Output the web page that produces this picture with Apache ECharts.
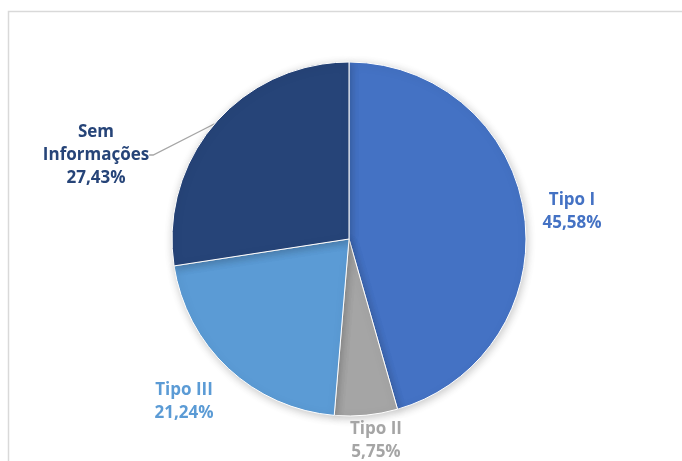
<!DOCTYPE html>
<html>
<head>
<meta charset="utf-8">
<script src="https://cdn.jsdelivr.net/npm/echarts@6/dist/echarts.min.js"></script>
<style>
  html, body { margin: 0; padding: 0; background: #ffffff; }
  #chart { width: 682px; height: 461px; }
</style>
</head>
<body>
<div id="chart"></div>
<script>
// Distribuição por tipo (%)
const categories = ['Tipo I', 'Tipo II', 'Tipo III', 'Sem\nInformações'];
const values = [45.58, 5.75, 21.24, 27.43];
const colors = ['#4472C4', '#A5A5A5', '#5B9BD5', '#264478'];

// where each label block is centred
const labelSpots = [
  [572, 212],
  [376, 441],
  [184, 402],
  [96, 155]
];

const fmt = v => v.toFixed(2).replace('.', ',') + '%';

const chart = echarts.init(document.getElementById('chart'), null, { renderer: 'canvas' });

chart.setOption({
  animation: false,
  backgroundColor: '#ffffff',
  graphic: [{
    type: 'rect',
    shape: { x: 8.5, y: 11.5, width: 700, height: 480 },
    style: { fill: 'none', stroke: '#d9d9d9', lineWidth: 1.5 },
    silent: true
  }],
  series: [{
    type: 'pie',
    center: [349, 239],
    radius: [0, 177],
    startAngle: 90,
    clockwise: true,
    avoidLabelOverlap: false,
    itemStyle: {
      borderColor: '#ffffff',
      borderWidth: 1,
      shadowBlur: 8,
      shadowColor: 'rgba(0,0,0,0.22)',
      shadowOffsetX: 1,
      shadowOffsetY: 2
    },
    label: {
      show: true,
      position: 'outside',
      fontFamily: 'Open Sans',
      fontWeight: 'bold',
      fontSize: 17,
      lineHeight: 23,
      align: 'center',
      formatter: p => p.name + '\n' + fmt(p.value)
    },
    labelLine: {
      show: true,
      length: 10,
      length2: 4,
      lineStyle: { color: '#a6a6a6', width: 1.3 }
    },
    labelLayout: params => ({
      x: labelSpots[params.dataIndex][0],
      y: labelSpots[params.dataIndex][1],
      align: 'center',
      verticalAlign: 'middle'
    }),
    data: categories.map((name, i) => ({
      name: name,
      value: values[i],
      itemStyle: { color: colors[i] },
      label: { color: colors[i] },
      labelLine: { show: i === 3 }
    }))
  }]
});
</script>
</body>
</html>
